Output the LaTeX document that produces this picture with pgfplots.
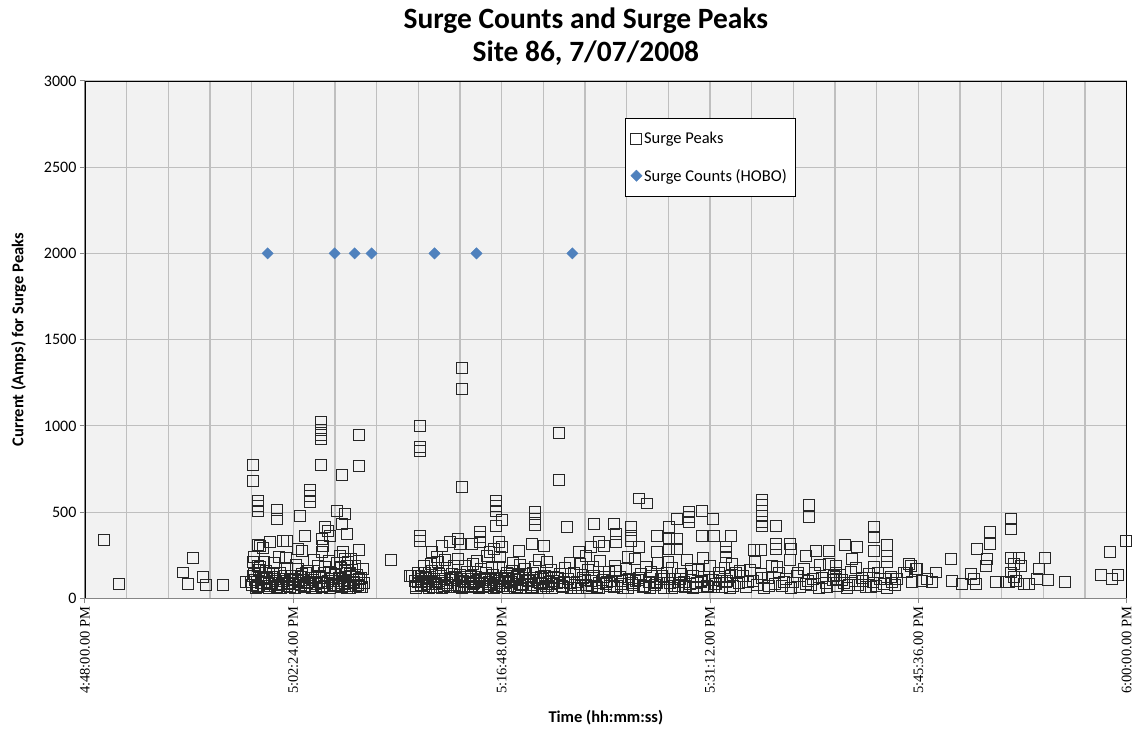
\documentclass[border=0pt]{standalone}
\usepackage{pgfplots}
\pgfplotsset{compat=1.18}
\usepackage{pgfplotstable}
\usepackage{fontspec}
\setmainfont{Carlito}
\newfontfamily\tickserif{Liberation Serif}
\definecolor{hobo}{HTML}{4F81BD}
\definecolor{plotbg}{HTML}{F2F2F2}
\definecolor{gridc}{HTML}{BFBFBF}
\definecolor{axisc}{HTML}{868686}

% minutes after 4:48:00 PM, peak current in amps
\pgfplotstableread{
min amps
1.31 336
2.35 81
6.77 150
7.10 81
7.46 232
8.15 122
8.35 75
9.53 75
11.10 93
11.60 776
11.60 683
11.94 562
11.94 533
11.94 504
13.25 515
13.25 458
11.94 307
12.77 324
12.30 290
11.70 237
11.60 208
11.94 185
16.29 1020
16.29 975
16.29 950
16.29 925
18.91 950
16.29 776
17.74 718
18.91 765
15.53 631
15.53 591
15.53 556
14.84 475
17.40 504
17.95 492
17.74 434
18.09 371
15.19 359
18.91 278
21.12 220
22.50 127
12.08 301
13.67 330
13.95 330
14.71 284
14.98 272
16.57 411
16.78 388
16.91 359
16.36 342
16.43 301
16.36 266
17.60 243
17.81 266
17.95 226
18.09 185
18.16 208
18.29 150
18.29 127
26.03 1338
26.03 1216
23.19 1002
23.19 880
23.19 855
32.79 961
32.79 689
26.03 643
28.44 562
28.44 533
28.44 504
28.79 452
28.44 417
31.13 498
31.13 458
31.13 423
33.34 411
23.19 359
23.19 330
22.57 127
27.27 382
27.27 353
27.27 324
28.65 324
28.79 295
30.93 313
30.03 272
31.75 301
25.75 342
25.89 313
24.71 301
25.20 324
24.02 266
24.30 237
26.72 313
27.96 266
28.30 284
38.31 579
38.87 550
35.21 434
36.59 434
36.72 371
36.72 324
37.76 411
37.76 359
37.76 330
39.56 359
40.94 463
41.76 498
41.76 469
41.76 440
42.66 504
43.42 463
40.38 411
40.38 342
40.94 342
42.66 359
43.49 359
44.66 359
44.32 295
44.32 266
39.56 266
40.38 284
40.94 284
38.31 295
35.55 324
35.90 301
35.00 295
34.17 266
34.65 243
46.80 573
46.80 539
46.80 504
46.80 475
46.80 440
46.80 417
47.77 417
50.05 544
50.05 469
44.32 237
46.25 278
46.73 278
47.77 318
47.77 284
48.73 318
48.80 284
49.84 243
50.53 272
51.43 272
52.53 307
53.36 295
53.02 226
54.54 411
54.54 353
54.54 272
55.43 307
55.43 243
55.43 208
54.54 180
51.91 185
51.91 150
51.91 110
57.09 185
57.43 168
56.78 150
56.09 110
63.99 463
63.99 400
62.54 382
62.54 313
61.64 284
59.85 226
62.33 226
62.26 185
66.34 232
65.93 168
63.99 232
64.54 232
64.20 197
64.68 185
70.83 266
71.93 330
70.20 133
70.96 110
71.37 133
67.72 93
66.55 104
56.95 197
57.50 168
56.60 150
58.82 150
59.92 98
60.60 81
61.57 81
62.95 93
63.64 93
64.88 81
65.23 81
65.79 110
57.16 93
57.85 98
58.54 93
58.20 110
61.23 139
61.44 110
63.99 150
64.20 122
63.85 93
64.33 98
11.5 95
11.7 140
11.9 72
12.1 180
12.3 110
12.5 160
12.7 85
12.9 125
13.1 205
13.3 68
13.5 150
13.7 100
13.9 235
14.1 90
14.3 130
14.5 115
14.7 170
14.9 78
15.1 105
15.3 145
15.5 95
15.7 62
15.9 120
16.1 190
16.3 88
16.5 150
16.7 70
16.9 215
17.1 110
17.3 135
17.5 80
17.7 175
17.9 98
18.1 60
18.3 140
18.5 105
18.7 190
18.9 75
19.1 120
19.3 90
11.6 130
11.8 60
12.0 165
12.2 88
12.4 210
12.6 118
12.8 70
13.0 150
13.2 100
13.4 240
13.6 82
13.8 128
14.0 175
14.2 65
14.4 108
14.6 195
14.8 92
15.0 140
15.2 74
15.4 160
15.6 118
15.8 225
16.0 84
16.2 132
16.4 66
16.6 180
16.8 102
17.0 145
17.2 76
17.4 205
17.6 118
17.8 90
18.0 160
18.2 72
18.4 230
18.6 95
18.8 138
19.0 64
19.2 170
11.55 78
11.75 105
11.95 64
12.15 120
12.35 70
12.55 95
12.75 58
12.95 88
13.15 112
13.35 76
13.55 62
13.75 98
13.95 70
14.15 115
14.35 82
14.55 60
14.75 100
14.95 124
15.15 66
15.35 90
15.55 72
15.75 108
15.95 58
16.15 96
16.35 120
16.55 74
16.75 88
16.95 62
17.15 100
17.35 70
17.55 118
17.75 64
17.95 82
18.15 105
18.35 58
18.55 90
18.75 72
18.95 110
19.15 66
22.8 100
23.0 145
23.2 75
23.4 185
23.6 118
23.8 62
24.0 160
24.2 92
24.4 210
24.6 130
24.8 70
25.0 175
25.2 105
25.4 140
25.6 80
25.8 230
26.0 112
26.2 66
26.4 155
26.6 96
26.8 200
27.0 125
27.2 74
27.4 168
27.6 104
27.8 245
28.0 86
28.2 138
28.4 64
28.6 182
28.8 115
29.0 90
29.2 150
29.4 70
29.6 205
29.8 108
30.0 135
30.2 78
30.4 172
30.6 98
30.8 60
31.0 148
31.2 118
31.4 220
31.6 84
31.8 130
32.0 72
32.2 165
32.4 100
22.9 72
23.1 128
23.3 96
23.5 150
23.7 82
23.9 200
24.1 115
24.3 68
24.5 142
24.7 90
24.9 225
25.1 76
25.3 120
25.5 185
25.7 64
25.9 135
26.1 98
26.3 190
26.5 72
26.7 130
26.9 88
27.1 215
27.3 110
27.5 66
27.7 145
27.9 95
28.1 175
28.3 80
28.5 118
28.7 240
28.9 70
29.1 130
29.3 100
29.5 160
29.7 62
29.9 122
30.1 195
30.3 86
30.5 140
30.7 108
30.9 68
31.1 180
31.3 92
31.5 125
31.7 60
31.9 210
32.1 118
32.3 82
22.85 60
23.05 92
23.25 110
23.45 70
23.65 98
23.85 122
24.05 64
24.25 84
24.45 100
24.65 58
24.85 115
25.05 90
25.25 68
25.45 104
25.65 120
25.85 74
26.05 60
26.25 96
26.45 112
26.65 66
26.85 84
27.05 102
27.25 58
27.45 92
27.65 120
27.85 70
28.05 108
28.25 62
28.45 88
28.65 100
28.85 74
29.05 116
29.25 60
29.45 94
29.65 110
29.85 68
30.05 86
30.25 120
30.45 62
30.65 98
30.85 76
31.05 104
31.25 58
31.45 90
31.65 112
31.85 70
32.05 96
32.25 60
32.45 122
32.6 88
32.8 140
33.0 70
33.2 175
33.4 110
33.6 62
33.8 150
34.0 95
34.2 200
34.4 120
34.6 75
34.8 165
35.0 100
35.2 132
35.4 66
35.6 215
35.8 108
36.0 84
36.2 155
36.4 98
36.6 190
36.8 72
37.0 125
37.2 60
37.4 170
37.6 112
37.8 88
38.0 230
38.2 104
38.4 140
38.6 68
38.8 180
39.0 95
39.2 128
39.4 76
39.6 205
39.8 115
40.0 62
40.2 150
40.4 90
40.6 175
40.8 110
41.0 70
41.2 140
41.4 96
41.6 220
41.8 82
42.0 130
42.2 64
42.4 165
42.6 100
42.8 122
43.0 74
43.2 190
43.4 108
43.6 86
43.8 150
44.0 66
44.2 175
44.4 98
44.6 128
44.8 72
45.0 145
32.7 120
33.1 95
33.5 205
33.9 78
34.3 135
34.7 60
35.1 180
35.5 90
35.9 122
36.3 70
36.7 160
37.1 100
37.5 240
37.9 80
38.3 118
38.7 66
39.1 155
39.5 92
39.9 130
40.3 210
40.7 74
41.1 112
41.5 64
41.9 170
42.3 88
42.7 235
43.1 104
43.5 68
43.9 126
44.3 92
44.7 200
33.05 64
33.55 90
34.05 58
34.55 104
35.05 72
35.55 60
36.05 96
36.55 66
37.05 84
37.55 58
38.05 100
38.55 74
39.05 62
39.55 88
40.05 110
40.55 60
41.05 92
41.55 70
42.05 58
42.55 96
43.05 64
43.55 84
44.05 102
44.55 60
45.2 90
45.45 130
45.7 68
45.95 165
46.2 100
46.45 75
46.7 140
46.95 62
47.2 118
47.45 190
47.7 85
47.95 150
48.2 70
48.45 110
48.7 225
48.95 92
49.2 130
49.45 64
49.7 170
49.95 100
50.2 78
50.45 145
50.7 60
50.95 120
51.2 88
51.45 200
51.7 105
51.95 70
52.2 135
52.45 90
52.7 62
52.95 155
53.2 100
53.45 75
53.7 120
53.95 64
54.2 140
54.45 92
54.7 70
54.95 110
55.2 85
55.45 60
55.7 125
55.95 80
45.3 160
45.8 95
46.3 210
46.8 120
47.3 72
47.8 180
48.3 96
48.8 60
49.3 150
49.8 85
50.3 115
50.8 195
51.3 68
51.8 130
52.3 105
52.8 80
53.3 175
53.8 98
54.3 66
54.8 150
55.3 110
55.8 92
}\peaks

\pgfplotstableread{
min amps
12.63 2000
17.26 2000
18.64 2000
19.81 2000
24.16 2000
27.06 2000
33.69 2000
}\hobo

\begin{document}
\begin{tikzpicture}
\begin{axis}[
  name=ax,
  scale only axis,
  width=1043pt, height=518pt,
  xmin=0, xmax=72, ymin=0, ymax=3000,
  clip=false,
  axis background/.style={fill=plotbg},
  xtick={0,14.4,28.8,43.2,57.6,72},
  xticklabels={4:48:00.00 PM,5:02:24.00 PM,5:16:48.00 PM,5:31:12.00 PM,5:45:36.00 PM,6:00:00.00 PM},
  xticklabel style={rotate=90, anchor=east, font=\tickserif\fontsize{14.5}{16}\selectfont},
  minor xtick={2.88,5.76,...,72},
  ytick={0,500,1000,1500,2000,2500,3000},
  yticklabels={0,500,1000,1500,2000,2500,3000},
  yticklabel style={font=\fontsize{16}{18}\selectfont},
  xmajorgrids=false, xminorgrids=true, ymajorgrids=true,
  major grid style={gridc, line width=1.2pt},
  minor grid style={gridc, line width=1.2pt},
  minor tick length=0pt,
  major tick length=5pt,
  tick align=outside,
  xtick pos=bottom, ytick pos=left,
  tick style={axisc, line width=1pt},
  axis line style={black, line width=0.8pt},
  xlabel={Time (hh:mm:ss)},
  ylabel={Current (Amps) for Surge Peaks},
  xlabel style={font=\bfseries\fontsize{16.5}{19}\selectfont, yshift=-10pt},
  ylabel style={font=\bfseries\fontsize{16.5}{19}\selectfont, yshift=11pt},
  title={Surge Counts and Surge Peaks\\Site 86, 7/07/2008},
  title style={font=\bfseries\fontsize{29.5}{33}\selectfont, align=center, xshift=-20pt, yshift=6pt},
  legend style={at={(0.518,0.9286)}, anchor=north west, draw=black, fill=white,
    font=\fontsize{16.5}{19}\selectfont, row sep=20pt, inner xsep=6pt, inner ysep=12pt},
  legend cell align=left,
]
\addplot[only marks, mark=square, mark size=5.5pt,
  mark options={draw=black!85, line width=1pt}] table[x=min, y=amps] {\peaks};
\addlegendentry{Surge Peaks}
\addplot[only marks, mark=square*, mark size=4pt,
  mark options={rotate=45, fill=hobo, draw=hobo}] table[x=min, y=amps] {\hobo};
\addlegendentry{Surge Counts (HOBO)}
\draw[axisc, line width=1pt] (rel axis cs:0,1) -- (rel axis cs:0,0) -- (rel axis cs:1,0);
\end{axis}
\path ([xshift=-85pt,yshift=-135pt]ax.south west) rectangle ([xshift=7pt,yshift=81pt]ax.north east);
\end{tikzpicture}
\end{document}
